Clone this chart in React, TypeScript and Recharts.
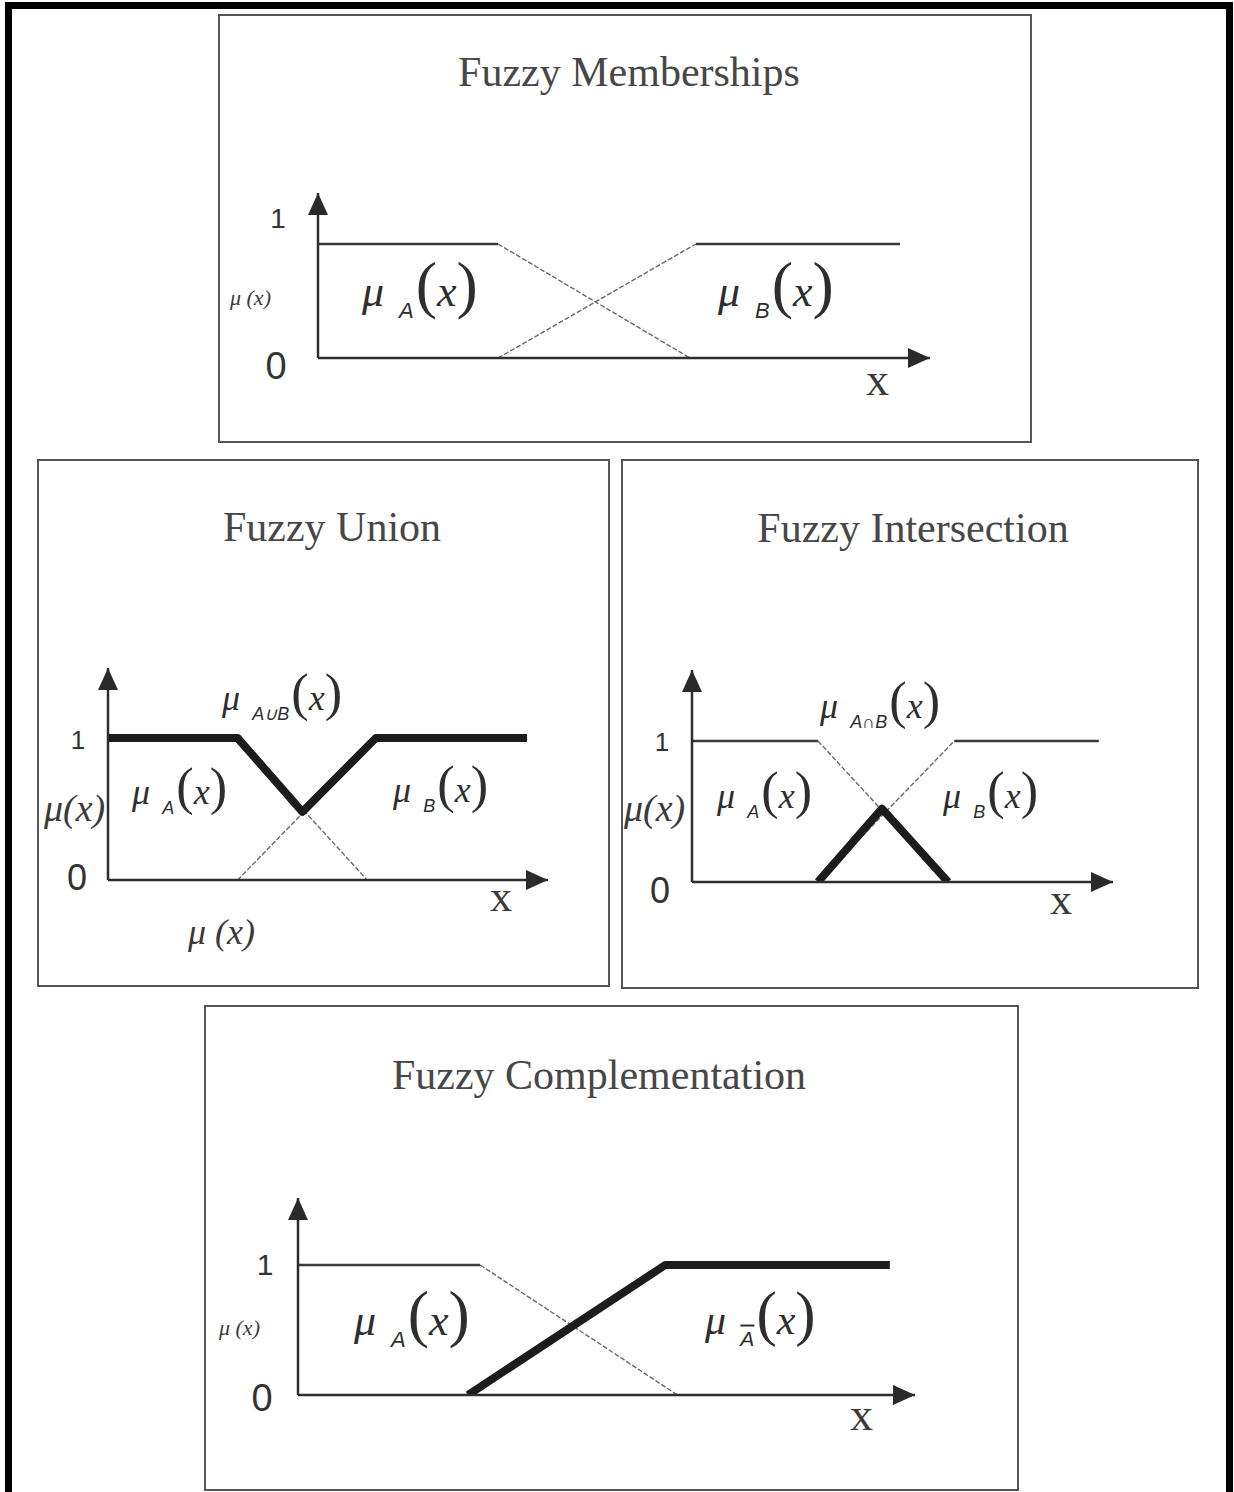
import React from "react";
import { LineChart, Line, XAxis, YAxis, ReferenceDot } from "recharts";

// panel titles and axis ticks
const titles = ["Fuzzy Memberships", "Fuzzy Union", "Fuzzy Intersection", "Fuzzy Complementation"];
const yTicks = [0, 1];

// fuzzy memberships
const memA = [{ x: 0, y: 1 }, { x: 3, y: 1 }, { x: 6.2, y: 0 }];
const memB = [{ x: 3, y: 0 }, { x: 6.3, y: 1 }, { x: 9.7, y: 1 }];

// fuzzy union
const uniA = [{ x: 0, y: 1 }, { x: 3, y: 1 }, { x: 6, y: 0 }];
const uniB = [{ x: 3, y: 0 }, { x: 6.2, y: 1 }, { x: 9.7, y: 1 }];
const uniAB = [{ x: 0, y: 1 }, { x: 3, y: 1 }, { x: 4.5, y: 0.48 }, { x: 6.2, y: 1 }, { x: 9.7, y: 1 }];

// fuzzy intersection
const intA = [{ x: 0, y: 1 }, { x: 3.05, y: 1 }, { x: 6.2, y: 0 }];
const intB = [{ x: 3.05, y: 0 }, { x: 6.35, y: 1 }, { x: 9.85, y: 1 }];
const intAB = [{ x: 3.05, y: 0 }, { x: 4.6, y: 0.52 }, { x: 6.2, y: 0 }];

// fuzzy complementation
const cmpA = [{ x: 0, y: 1 }, { x: 3, y: 1 }, { x: 6.25, y: 0 }];
const cmpNotA = [{ x: 2.8, y: 0 }, { x: 6.05, y: 1 }, { x: 9.75, y: 1 }];

const SERIF = '"Liberation Serif", "DejaVu Serif", serif';
const SANS = '"Liberation Sans", Arial, sans-serif';
const BORDER = 2;

type Pt = { x: number; y: number };
type Kind = "solid" | "slope" | "bold";
const lineStyle: Record<Kind, { stroke: string; width: number; dash?: string }> = {
  solid: { stroke: "#3a3a3a", width: 2.5 },
  slope: { stroke: "#6a6a6a", width: 1.4, dash: "5 2" },
  bold: { stroke: "#1c1c1c", width: 8 },
};

type Box = { left: number; top: number; w: number; h: number };
type Axes = { x0: number; xTen: number; tipX: number; y0: number; yOne: number; tipY: number };
type TickCfg = { oneDx: number; zeroDx: number; oneDy: number; zeroDy: number; oneSize: number; zeroSize: number };
type Lbl = { x: number; y: number; node: React.ReactNode };

function Mu({ sub, size, bar }: { sub: string; size: number; bar?: boolean }) {
  return (
    <span style={{ whiteSpace: "nowrap", color: "#2e2e2e", lineHeight: 1 }}>
      <span style={{ fontFamily: SERIF, fontStyle: "italic", fontSize: size }}>μ</span>
      <span
        style={{
          fontFamily: SANS,
          fontStyle: "italic",
          fontSize: size * 0.5,
          marginLeft: size * 0.34,
          position: "relative",
          top: size * 0.28,
          textDecoration: bar ? "overline" : "none",
        }}
      >
        {sub}
      </span>
      <span style={{ fontFamily: SERIF, fontSize: size * 1.45, marginLeft: 2 }}>(</span>
      <span style={{ fontFamily: SERIF, fontStyle: "italic", fontSize: size }}>x</span>
      <span style={{ fontFamily: SERIF, fontSize: size * 1.45 }}>)</span>
    </span>
  );
}

function Plain({ text, size, italic = true, family = SERIF }: { text: string; size: number; italic?: boolean; family?: string }) {
  return (
    <span style={{ fontFamily: family, fontStyle: italic ? "italic" : "normal", fontSize: size, color: "#3a3a3a", whiteSpace: "nowrap", lineHeight: 1 }}>
      {text}
    </span>
  );
}

const ArrowUp = (p: any) => (
  <polygon points={`${p.cx},${p.cy} ${p.cx - 10},${p.cy + 22} ${p.cx + 10},${p.cy + 22}`} fill="#2a2a2a" />
);
const ArrowRight = (p: any) => (
  <polygon points={`${p.cx},${p.cy} ${p.cx - 22},${p.cy - 10} ${p.cx - 22},${p.cy + 10}`} fill="#2a2a2a" />
);

function Panel({
  box,
  axes,
  title,
  titleX,
  titleY,
  series,
  ticks,
  labels,
}: {
  box: Box;
  axes: Axes;
  title: string;
  titleX: number;
  titleY: number;
  series: { data: Pt[]; kind: Kind }[];
  ticks: TickCfg;
  labels: Lbl[];
}) {
  const ox = box.left + BORDER;
  const oy = box.top + BORDER;
  const innerW = box.w - 2 * BORDER;
  const innerH = box.h - 2 * BORDER;
  const YW = 40;
  const XH = 30;
  const margin = {
    left: axes.x0 - ox - YW,
    top: axes.tipY - oy,
    right: innerW - (axes.tipX - ox),
    bottom: innerH - (axes.y0 - oy) - XH,
  };
  const xMax = (10 * (axes.tipX - axes.x0)) / (axes.xTen - axes.x0);
  const yMax = (axes.y0 - axes.tipY) / (axes.y0 - axes.yOne);
  const axisX = axes.x0 - ox;

  const renderTick = (p: any) => {
    const one = p.payload.value === 1;
    return (
      <text
        x={axisX - (one ? ticks.oneDx : ticks.zeroDx)}
        y={p.y + (one ? ticks.oneDy : ticks.zeroDy)}
        textAnchor="middle"
        dominantBaseline="central"
        fontFamily={SANS}
        fontSize={one ? ticks.oneSize : ticks.zeroSize}
        fill="#333"
      >
        {one ? "1" : "0"}
      </text>
    );
  };

  return (
    <div
      style={{
        position: "absolute",
        left: box.left,
        top: box.top,
        width: box.w,
        height: box.h,
        boxSizing: "border-box",
        border: `${BORDER}px solid #555`,
        background: "#fff",
      }}
    >
      <div
        style={{
          position: "absolute",
          left: titleX - ox - 300,
          width: 600,
          top: titleY - oy - 21,
          textAlign: "center",
          fontFamily: SERIF,
          fontSize: 42,
          lineHeight: "42px",
          color: "#474747",
        }}
      >
        {title}
      </div>
      <div style={{ position: "absolute", left: 0, top: 0 }}>
        <LineChart width={innerW} height={innerH} margin={margin}>
          <XAxis
            type="number"
            dataKey="x"
            domain={[0, xMax]}
            allowDataOverflow
            height={XH}
            tick={false}
            tickLine={false}
            axisLine={{ stroke: "#2e2e2e", strokeWidth: 2.5 }}
          />
          <YAxis
            type="number"
            dataKey="y"
            domain={[0, yMax]}
            allowDataOverflow
            width={YW}
            ticks={yTicks}
            tickLine={false}
            tick={renderTick}
            axisLine={{ stroke: "#2e2e2e", strokeWidth: 2.5 }}
          />
          {series.map((s, i) => (
            <Line
              key={i}
              data={s.data}
              dataKey="y"
              type="linear"
              stroke={lineStyle[s.kind].stroke}
              strokeWidth={lineStyle[s.kind].width}
              strokeDasharray={lineStyle[s.kind].dash}
              strokeLinejoin="round"
              dot={false}
              activeDot={false}
              isAnimationActive={false}
            />
          ))}
          <ReferenceDot x={xMax} y={0} r={0} shape={ArrowRight} ifOverflow="visible" />
          <ReferenceDot x={0} y={yMax} r={0} shape={ArrowUp} ifOverflow="visible" />
        </LineChart>
      </div>
      {labels.map((l, i) => (
        <div
          key={i}
          style={{ position: "absolute", left: l.x - ox, top: l.y - oy, transform: "translateY(-50%)", lineHeight: 1 }}
        >
          {l.node}
        </div>
      ))}
    </div>
  );
}

export default function App() {
  return (
    <div
      style={{
        position: "absolute",
        left: 0,
        top: 0,
        width: 1234,
        height: 1492,
        overflow: "hidden",
        background: "#fff",
      }}
    >
      <div
        style={{
          position: "absolute",
          left: 5,
          top: 2,
          width: 1228,
          height: 1520,
          boxSizing: "border-box",
          border: "7px solid #000",
        }}
      />

      <Panel
        box={{ left: 218, top: 14, w: 814, h: 429 }}
        axes={{ x0: 318, xTen: 918, tipX: 930, y0: 358, yOne: 244, tipY: 193 }}
        title={titles[0]}
        titleX={629}
        titleY={72}
        series={[
          { data: memA.slice(0, 2), kind: "solid" },
          { data: memA.slice(1), kind: "slope" },
          { data: memB.slice(0, 2), kind: "slope" },
          { data: memB.slice(1), kind: "solid" },
        ]}
        ticks={{ oneDx: 40, zeroDx: 42, oneDy: -26, zeroDy: 8, oneSize: 28, zeroSize: 38 }}
        labels={[
          { x: 230, y: 298, node: <Plain text="μ (x)" size={22} /> },
          { x: 362, y: 285, node: <Mu sub="A" size={44} /> },
          { x: 718, y: 285, node: <Mu sub="B" size={44} /> },
          { x: 866, y: 380, node: <Plain text="x" size={46} italic={false} /> },
        ]}
      />

      <Panel
        box={{ left: 37, top: 459, w: 573, h: 528 }}
        axes={{ x0: 108, xTen: 540, tipX: 548, y0: 880, yOne: 738, tipY: 668 }}
        title={titles[1]}
        titleX={332}
        titleY={527}
        series={[
          { data: uniA.slice(1), kind: "slope" },
          { data: uniB.slice(0, 2), kind: "slope" },
          { data: uniAB, kind: "bold" },
        ]}
        ticks={{ oneDx: 30, zeroDx: 31, oneDy: 2, zeroDy: -3, oneSize: 26, zeroSize: 36 }}
        labels={[
          { x: 222, y: 692, node: <Mu sub="A∪B" size={36} /> },
          { x: 132, y: 786, node: <Mu sub="A" size={36} /> },
          { x: 393, y: 784, node: <Mu sub="B" size={36} /> },
          { x: 44, y: 808, node: <Plain text="μ(x)" size={38} /> },
          { x: 490, y: 897, node: <Plain text="x" size={44} italic={false} /> },
          { x: 188, y: 932, node: <Plain text="μ (x)" size={36} /> },
        ]}
      />

      <Panel
        box={{ left: 621, top: 459, w: 578, h: 530 }}
        axes={{ x0: 692, xTen: 1105, tipX: 1113, y0: 882, yOne: 741, tipY: 670 }}
        title={titles[2]}
        titleX={913}
        titleY={528}
        series={[
          { data: intA.slice(0, 2), kind: "solid" },
          { data: intA.slice(1), kind: "slope" },
          { data: intB.slice(0, 2), kind: "slope" },
          { data: intB.slice(1), kind: "solid" },
          { data: intAB, kind: "bold" },
        ]}
        ticks={{ oneDx: 30, zeroDx: 32, oneDy: 1, zeroDy: 8, oneSize: 26, zeroSize: 36 }}
        labels={[
          { x: 820, y: 700, node: <Mu sub="A∩B" size={36} /> },
          { x: 717, y: 790, node: <Mu sub="A" size={36} /> },
          { x: 943, y: 790, node: <Mu sub="B" size={36} /> },
          { x: 624, y: 808, node: <Plain text="μ(x)" size={38} /> },
          { x: 1050, y: 900, node: <Plain text="x" size={44} italic={false} /> },
        ]}
      />

      <Panel
        box={{ left: 204, top: 1005, w: 815, h: 486 }}
        axes={{ x0: 298, xTen: 905, tipX: 915, y0: 1395, yOne: 1265, tipY: 1198 }}
        title={titles[3]}
        titleX={599}
        titleY={1075}
        series={[
          { data: cmpA.slice(0, 2), kind: "solid" },
          { data: cmpA.slice(1), kind: "slope" },
          { data: cmpNotA, kind: "bold" },
        ]}
        ticks={{ oneDx: 33, zeroDx: 36, oneDy: -1, zeroDy: 3, oneSize: 30, zeroSize: 38 }}
        labels={[
          { x: 219, y: 1328, node: <Plain text="μ (x)" size={22} /> },
          { x: 354, y: 1314, node: <Mu sub="A" size={44} /> },
          { x: 705, y: 1314, node: <Mu sub="A" size={42} bar /> },
          { x: 850, y: 1415, node: <Plain text="x" size={46} italic={false} /> },
        ]}
      />
    </div>
  );
}
